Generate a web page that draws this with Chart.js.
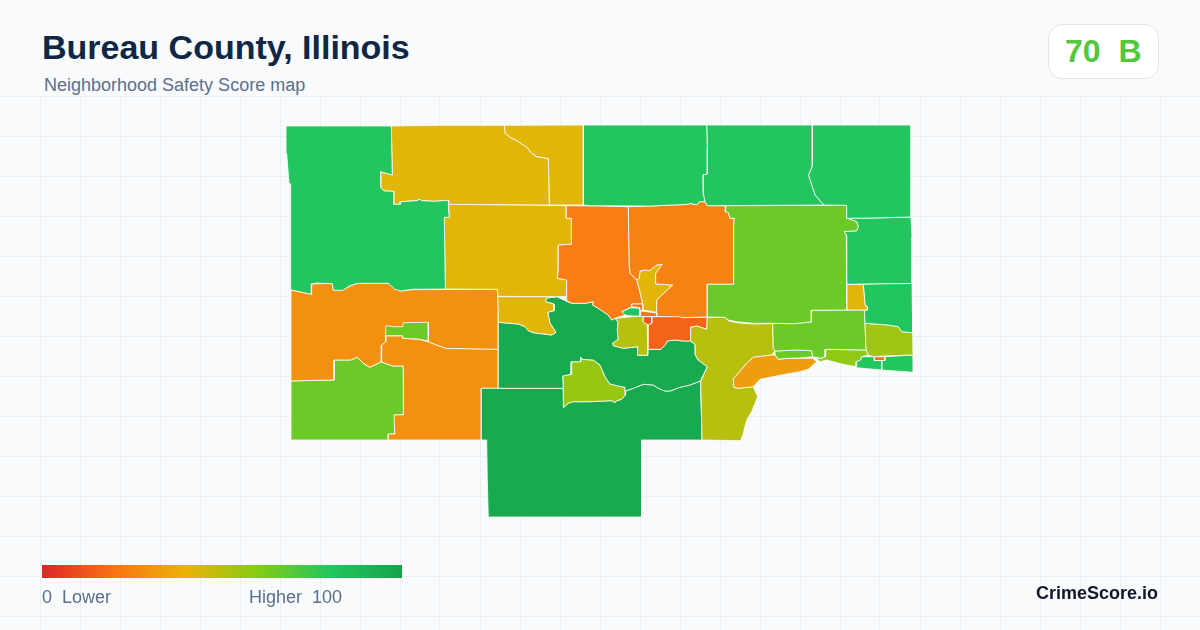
<!DOCTYPE html>
<html><head><meta charset="utf-8">
<script src="https://cdn.jsdelivr.net/npm/chart.js@4"></script>
<style>
html,body{margin:0;padding:0;width:1200px;height:630px;overflow:hidden;background:#f8fafc;font-family:"Liberation Sans",Arial,sans-serif}
.t{position:absolute;white-space:pre;line-height:1}
#wrap{position:absolute;left:0;top:96px;width:1200px;height:534px}
#title{left:42px;top:30px;font-size:34px;font-weight:700;color:#0f2744}
#sub{left:44px;top:76px;font-size:18px;color:#5b6f8c}
#badge{position:absolute;left:1048px;top:24px;width:109px;height:53px;border:1px solid #e2e8f0;border-radius:14px;background:#fff}
#score{left:1065px;top:35px;font-size:32px;font-weight:700;color:#53c83a}
#bar{position:absolute;left:42px;top:565px;width:360px;height:13px;background:linear-gradient(90deg,#dc2626 0%,#f97316 20%,#eab308 40%,#84cc16 60%,#22c55e 80%,#16a34a 100%)}
#lo{left:42px;top:588px;font-size:18px;color:#5b6f8c}
#hi{left:249px;top:588px;font-size:18px;color:#5b6f8c}
#brand{left:1036px;top:584px;font-size:18px;font-weight:700;color:#0f172a}
</style></head><body>
<div id="wrap"><canvas id="c" width="1200" height="534"></canvas></div>
<div class="t" id="title">Bureau County, Illinois</div>
<div class="t" id="sub">Neighborhood Safety Score map</div>
<div id="badge"></div><div class="t" id="score">70  B</div>
<div id="bar"></div>
<div class="t" id="lo">0  Lower</div><div class="t" id="hi">Higher  100</div>
<div class="t" id="brand">CrimeScore.io</div>
<script>
// Tract boundaries in map units, and each tract's score
const tinyEast=[[874.3,356.7],[885,356.7],[885,360.5],[874.3,360.5]];
const tinyRed=[[643.3,316.7],[651.7,316.7],[651.7,323],[648.3,325],[645,323.3],[643.3,321.7]];
const stripOrange=[[640.7,311],[656.7,313],[656.7,316.5],[640.7,316.5]];
const tinyOrange=[[631.7,304],[642.7,304],[642.7,310],[640,310.7],[640,307.7],[631.7,306.7]];
const tinyGreen=[[621.7,311.7],[630.7,307.7],[640,308.3],[640,316],[631.7,316],[625,315]];
const innerLime=[[385.7,325.7],[393.3,326.7],[402.7,326.7],[403.3,322.7],[428.3,322.3],[428.3,341],[418.3,339],[402.7,338.3],[402.7,335.7],[385.7,335.7]];
const tractNW=[[286,126],[391.3,126],[392.3,175],[380.7,171.7],[380.7,187.3],[384,191],[393.7,191.3],[393.7,204.3],[400,204.3],[400.7,201.7],[416.7,200.7],[420,199.3],[421.7,200.7],[435,201.3],[448.3,200.3],[448.7,211.7],[449.3,217.3],[444.3,217.3],[445.3,289],[412.7,289.3],[400.7,291],[395,289.3],[388.3,283.3],[357.3,283.3],[350,285.7],[342.7,290.3],[333.3,290.3],[332.3,283.7],[316.7,283],[311.7,283.7],[311.3,294.3],[290.7,289.7],[290.7,184],[289,183.3],[286.7,153.3]];
const tractNorthGold=[[391.3,126],[442,125.3],[504.3,125.3],[505,133.3],[510,137.3],[518.3,141.7],[526.7,147.3],[531.7,153.3],[536.7,156.7],[548.3,158.7],[549.3,205],[448.7,204.3],[448.3,200.3],[435,201.3],[421.7,200.7],[420,199.3],[416.7,200.7],[400.7,201.7],[400,204.3],[393.7,204.3],[393.7,191.3],[384,191],[380.7,187.3],[380.7,171.7],[392.3,175]];
const tractNorthGold2=[[504.3,125.3],[583.3,125],[583.3,205],[549.3,205],[548.3,158.7],[536.7,156.7],[531.7,153.3],[526.7,147.3],[518.3,141.7],[510,137.3],[505,133.3]];
const tractN1=[[583.3,125],[706.7,125],[707.3,149],[707.3,174],[703,174.7],[703.3,194],[705,201.7],[699.3,201.7],[696.7,205],[690,203.3],[688.3,204.3],[650,206],[590,205.7],[583.3,205]];
const tractN2=[[706.7,125],[812.3,125],[812.3,166],[808.5,175],[810,180],[815,195],[823.7,205],[707.3,205.7],[705,201.7],[703.3,194],[703,174.7],[707.3,174],[707.3,149]];
const tractN3=[[812.3,125],[911,125],[911,217],[873,218],[846.7,218.3],[846.7,205.3],[823.7,205],[815,195],[810,180],[808.5,175],[812.3,166]];
const tractLimeBig=[[725.7,205.7],[846.7,205.3],[846.7,218.3],[851.7,220],[856.7,221.7],[858.3,226.7],[856.7,230.7],[844,231.7],[846.3,235],[846.7,310],[811.3,310.3],[811.3,322],[803.3,322.7],[793.3,323.7],[772.7,323.3],[753.3,323.3],[736.7,321.7],[728.3,320],[725,317.3],[707.3,317],[707.3,284.3],[733.7,284.3],[733.7,225],[734.3,218.3],[730,218.3],[728.3,212.7],[725.3,211.7]];
const tractE1=[[846.7,218.3],[873,218],[911,217],[912,237],[912,283.5],[881,283.7],[846.7,284.3],[846.3,235],[844,231.7],[856.7,230.7],[858.3,226.7],[856.7,221.7],[851.7,220]];
const tractGoldSmall=[[846.7,284.3],[863.3,284.3],[865,305],[867.3,306.7],[867.3,310],[846.7,310]];
const tractE2=[[863.3,284.3],[881,283.7],[912,283.5],[912.7,332.7],[901.7,331.7],[898.3,326.7],[888.3,325],[865,323.3],[864.3,310],[867.3,310],[867.3,306.7],[865,305]];
const tractE3=[[865,323.3],[888.3,325],[898.3,326.7],[901.7,331.7],[912.7,332.7],[913,355],[883.3,356],[873.3,356.7],[868.3,355],[866,350]];
const tractE4=[[856.7,361.7],[860.7,360],[861.7,356.7],[874.3,356.7],[874.3,360.5],[881.7,360.5],[881.7,370],[856.7,367.7]];
const tractE5=[[881.7,360.5],[884.3,360.5],[884.3,356.7],[913,355],[913.3,372.3],[881.7,370]];
const tractLimeEast=[[811.3,310.3],[846.7,310],[864.3,310],[865,323.3],[866,350],[825.7,349.3],[825,356.7],[821,358.3],[812.7,356.7],[811.7,350.7],[796.7,350],[775,351],[773.3,348.3],[772.7,323.3],[793.3,323.7],[803.3,322.7],[811.3,322]];
const tractLimeStrip=[[775,351],[796.7,350],[811.7,350.7],[812.7,356.7],[800,358],[786.7,358.3],[778.3,359.3],[775,355]];
const tractShore=[[825.7,349.3],[866,350],[868.3,355],[861.7,356.7],[860.7,360],[856.7,361.7],[856,366.7],[841.7,364],[826.7,360],[820,361.7],[816.7,358.3],[812.7,357.3],[821,358.3],[825,356.7]];
const tractLakeStrip=[[771.7,355],[753.3,357.3],[746.7,363.3],[736.7,375],[733.3,379],[734,387.3],[738.3,388.3],[753.3,386.7],[760,379.3],[786.7,374],[800,371.7],[808.3,369.3],[816.7,361.7],[812.7,358.3],[786.7,358.3],[778.3,359.3],[775,355]];
const tractOliveSouth=[[690.7,327.3],[696.7,326],[706.7,329.3],[707.3,317.3],[725,317.3],[728.3,320.7],[736.7,322.7],[753.3,324],[772.7,323.7],[773.3,348.3],[775,351],[771.7,355],[753.3,357.3],[746.7,363.3],[736.7,375],[733.3,379],[734,387.3],[738.3,388.3],[753.3,386.7],[757.7,396.7],[751.7,411.7],[746.7,420],[743.3,433.3],[740.7,440.7],[702,440],[701.7,423.3],[700.7,381.7],[707.3,366.7],[698.3,360],[695.3,355],[695.3,345],[690.7,341]];
const tractRedCentre=[[648.3,325],[651.7,323.3],[651.7,316.7],[680,316.7],[681.7,317.7],[707.3,317.3],[706.7,329.3],[696.7,326],[690.7,327.3],[690.7,341],[683.3,341],[675,340],[667.3,341],[665.3,345],[660.7,349.3],[648,349.3]];
const tractOliveCentre=[[615,318.3],[640.7,316],[643.3,316.7],[643.3,321.7],[647.3,324.3],[647.7,355.3],[637.7,355.3],[637.7,346.7],[623.3,348.3],[613.3,345.7],[612.7,343.3],[618.3,339.3],[617.3,330],[618,321.7]];
const tractOrangeA=[[566.3,205.7],[600,206],[628.3,206.7],[629,263.3],[630,273.3],[636.7,280],[639.3,290],[642.7,304],[631.7,304],[631.7,306.7],[621.7,311.7],[625,315],[615,318.3],[611.7,320],[608.3,315],[603.3,311.7],[598.3,308.3],[592.7,305],[593.3,301.7],[585,303.3],[571.7,303.3],[566.7,300.7],[566.7,280],[557.3,278.3],[558.3,270],[558.3,245],[571.7,244.3],[571.3,218.3],[566.3,218.3]];
const tractOrangeB=[[628.3,206.7],[650,206],[688.3,204.3],[690,203.3],[696.7,205],[699.3,201.7],[705,201.7],[707.3,205.7],[725.7,205.7],[725.3,211.7],[728.3,212.7],[730,218.3],[734.3,218.3],[733.7,225],[733.7,284.3],[707.3,284.3],[707.3,317],[681.7,317.7],[656.7,316.5],[656.7,300],[672.7,285],[655.7,284],[655.7,273.3],[662.3,264.3],[656.7,265],[649.3,270.7],[645,270],[640,271],[639.3,278.3],[636.7,280],[630,273.3],[629,263.3]];
const tractGoldInlet=[[636.7,280],[639.3,278.3],[640,271],[645,270],[649.3,270.7],[656.7,265],[662.3,264.3],[655.7,273.3],[655.7,284],[672.7,285],[656.7,300],[656.7,312.5],[643.3,310],[642.7,304],[639.3,290]];
const tractGoldMid=[[448.7,204.3],[533,205],[566.3,205.7],[566.3,218.3],[571.3,218.3],[571.7,244.3],[558.3,245],[558.3,270],[557.3,278.3],[566.7,280],[566.7,296.5],[556,296.7],[498,296.3],[497.3,289.3],[445.3,289],[444.3,217.3],[449.3,217.3],[448.7,211.7]];
const tractGoldLow=[[497.7,296.7],[556,296.7],[546.7,298],[545.3,301.7],[554,304],[554,310.7],[547.7,312.3],[550,323.3],[556,332.3],[551.7,335],[533.3,332.7],[528.3,330.7],[525,326.7],[518.3,324],[498.3,322.3],[498.3,311.7]];
const tractDarkMid=[[498.3,322.3],[518.3,324],[525,326.7],[528.3,330.7],[533.3,332.7],[551.7,335],[556,332.3],[550,323.3],[547.7,312.3],[554,310.7],[554,304],[545.3,301.7],[546.7,298],[556.7,296.7],[567.3,301.7],[571.7,303.3],[585,303.3],[593.3,301.7],[592.7,305],[598.3,308.3],[603.3,311.7],[608.3,315],[611.7,320],[615,318.3],[618,321.7],[617.3,330],[618.3,339.3],[612.7,343.3],[613.3,345.7],[623.3,348.3],[637.7,346.7],[637.7,355.3],[647.7,355.3],[648,349.3],[660.7,349.3],[665.3,345],[667.3,341],[675,340],[683.3,341],[690.7,341],[695.3,345],[695.3,355],[698.3,360],[707.3,366.7],[700.3,381],[690,385],[680,387.3],[670,391],[665,391],[658.3,388.3],[653.3,385],[643.3,384.3],[633.3,388.3],[625.7,391],[625,387.3],[618.3,386],[610,384],[605,376.7],[600,365],[593.3,360],[581.7,359.3],[580.7,357.3],[580.7,361.7],[571.7,361.7],[571,374.3],[562.7,376],[563.3,388.3],[498.3,388.3]];
const tractYellowGreen=[[571.7,361.7],[580.7,361.7],[580.7,357.3],[581.7,359.3],[593.3,360],[600,365],[605,376.7],[610,384],[618.3,386],[625,387.3],[625.7,391],[625,395],[621.7,399.3],[616.7,400.7],[615,402.7],[611.7,400.7],[590,401.7],[573.3,401.7],[568.3,403.3],[563.7,407.3],[563.3,388.3],[562.7,376],[571,374.3]];
const tractDarkSouth=[[481.3,388.3],[498.3,388.3],[563.3,388.3],[563.7,407.3],[568.3,403.3],[573.3,401.7],[590,401.7],[611.7,400.7],[615,402.7],[616.7,400.7],[621.7,399.3],[625,395],[625.7,391],[633.3,388.3],[643.3,384.3],[653.3,385],[658.3,388.3],[665,391],[670,391],[680,387.3],[690,385],[700.3,381],[701.7,423.3],[702,440],[641.5,440],[641.5,517],[488.3,517],[487.3,480],[486.7,440],[481.3,440]];
const tractOrangeWest=[[291,290],[311.7,294.3],[311.7,284],[332.3,283.3],[333.3,290],[342.7,290],[350,286],[357.3,283.3],[388.3,283.3],[395,286.7],[400.7,291],[411.7,289.7],[497.3,289.3],[497.7,296.7],[498.3,311.7],[498.3,349.3],[445.7,348.3],[436.7,345],[428.3,341.7],[418.3,339],[402.7,338.3],[402.7,335.7],[385.7,335.7],[385.7,341.7],[381.7,345],[381.3,361.7],[370,367.3],[363.3,363.3],[357.3,357.3],[350.7,360],[334,360],[334,380],[300,380.7],[291,381]];
const tractOrangeSouth=[[385.7,335.7],[402.7,335.7],[402.7,338.3],[418.3,339],[428.3,341.7],[436.7,345],[445.7,348.3],[498.3,349.3],[498.3,388.3],[481.3,388.3],[481.3,440],[388.3,440],[388.3,434],[395,434],[394,420],[394.3,415],[403.7,414.7],[403.3,385],[403.3,366],[393.3,366],[385,363.3],[381.3,361.7],[381.7,345],[385.7,341.7]];
const tractLimeSW=[[291,381],[300,380.7],[334,380],[334,360],[350.7,360],[357.3,357.3],[363.3,363.3],[370,367.3],[381.3,361.7],[385,363.3],[393.3,366],[403.3,366],[403.7,414.7],[394.3,415],[395,434],[388.3,434],[388.3,440],[291,440]];

const tractShapes=[tinyEast,tinyRed,stripOrange,tinyOrange,tinyGreen,innerLime,tractNW,tractNorthGold,tractNorthGold2,tractN1,tractN2,tractN3,tractLimeBig,tractE1,tractGoldSmall,tractE2,tractE3,tractE4,tractE5,tractLimeEast,tractLimeStrip,tractShore,tractLakeStrip,tractOliveSouth,tractRedCentre,tractOliveCentre,tractOrangeA,tractOrangeB,tractGoldInlet,tractGoldMid,tractGoldLow,tractDarkMid,tractYellowGreen,tractDarkSouth,tractOrangeWest,tractOrangeSouth,tractLimeSW];
const tractScores=[22,13,21,20,80,65,80,42,42,80,80,80,65,80,42,80,55,80,80,65,65,58,33,50,16,50,23,25,42,42,42,96,56,96,29,29,65];
const rampStops=[0,20,40,60,80,100];
const rampColors=[[220,38,38],[249,115,22],[234,179,8],[132,204,22],[34,197,94],[22,163,74]];
const gridX=[40,80,120,160,200,240,280,320,360,400,440,480,520,560,600,640,680,720,760,800,840,880,920,960,1000,1040,1080,1120,1160];
const gridY=[96,136,176,216,256,296,336,376,416,456,496,536,576,616];

function scoreColor(s){
  let i=0;while(i<rampStops.length-2&&s>rampStops[i+1])i++;
  const t=(s-rampStops[i])/(rampStops[i+1]-rampStops[i]);
  const c=rampColors[i].map((v,k)=>Math.round(v+(rampColors[i+1][k]-v)*t));
  return `rgb(${c[0]},${c[1]},${c[2]})`;
}
const gridStyle={color:'#e9f0f4',lineWidth:1,drawTicks:false};
new Chart(document.getElementById('c'),{
  type:'scatter',
  data:{datasets:tractShapes.map((ring,i)=>({
    data:ring.concat([ring[0]]).map(p=>({x:p[0],y:p[1]})),
    showLine:true,fill:'shape',tension:0,
    backgroundColor:scoreColor(tractScores[i]),
    borderColor:'#ffffff',borderWidth:0.8,pointRadius:0,pointHoverRadius:0
  }))},
  options:{
    responsive:false,animation:false,devicePixelRatio:1,
    layout:{padding:0},
    plugins:{legend:{display:false},tooltip:{enabled:false},title:{display:false}},
    scales:{
      x:{type:'linear',min:0,max:1200,border:{display:false},grid:gridStyle,ticks:{display:false},
         afterBuildTicks:a=>{a.ticks=gridX.map(v=>({value:v}));}},
      y:{type:'linear',min:96,max:630,reverse:true,border:{display:false},grid:gridStyle,ticks:{display:false},
         afterBuildTicks:a=>{a.ticks=gridY.map(v=>({value:v}));}}
    }
  }
});
</script>
</body></html>
